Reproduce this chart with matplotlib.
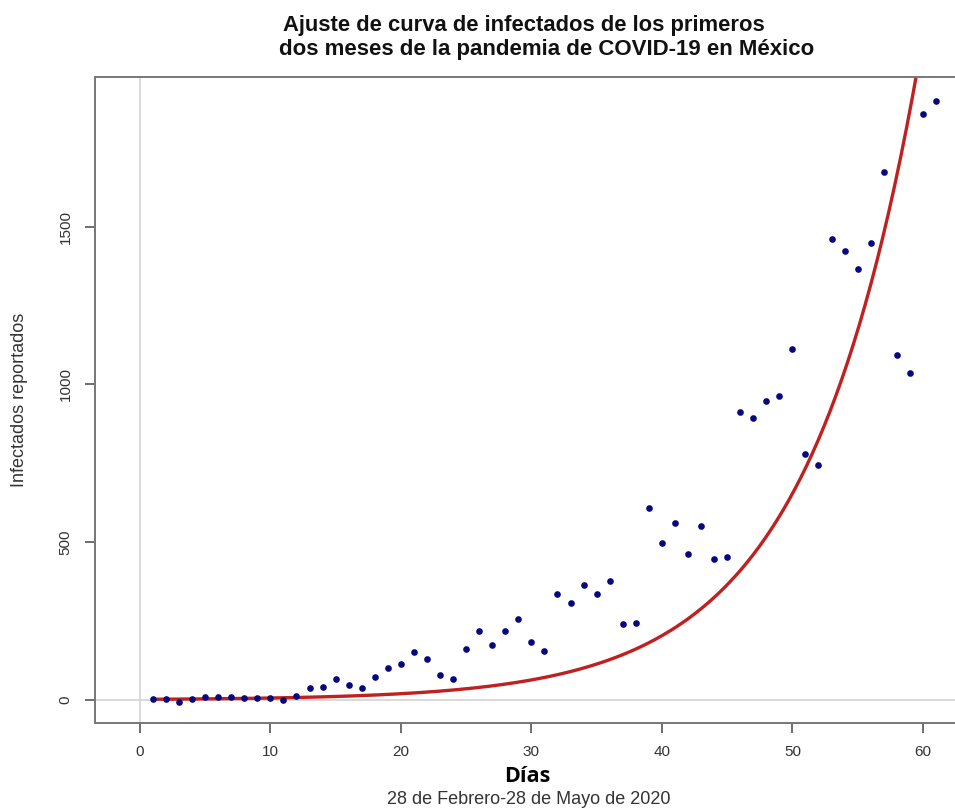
#!/usr/bin/env python3
import numpy as np
import matplotlib
matplotlib.use("Agg")
import matplotlib.pyplot as plt

# datos
dias = np.arange(1, 62)
infectados = [2, 4, -5, 2, 10, 10, 10, 7, 7, 7,
              0, 13, 37, 41, 66, 48, 38, 73, 101, 115,
              151, 130, 80, 66, 162, 219, 175, 219, 255, 184,
              155, 337, 308, 364, 336, 376, 240, 243, 607, 496,
              560, 461, 550, 447, 454, 913, 895, 948, 962, 1112,
              780, 743, 1462, 1423, 1366, 1447, 1674, 1094, 1037, 1857, 1897]

# parametros del ajuste exponencial y = a * exp(b * x)
fit_a = 1.92
fit_b = 0.1166

x_ticks = [0, 10, 20, 30, 40, 50, 60]
y_ticks = [0, 500, 1000, 1500]


def main():
    plt.rcParams['font.family'] = ['Liberation Sans', 'DejaVu Sans']
    fig = plt.figure(figsize=(9.55, 8.10), dpi=100)
    W, H = 955, 810
    left, right, top, bottom = 95, 962, 77, 723
    ax = fig.add_axes([left / W, 1 - bottom / H, (right - left) / W, (bottom - top) / H])

    ax.axhline(0, color="#d3d3d3", lw=1.2, zorder=1)
    ax.axvline(0, color="#d3d3d3", lw=1.2, zorder=1)

    ax.plot(dias, infectados, "o", color="#08087e", ms=4.8, mec="none", zorder=3)

    xs = np.linspace(1, 61, 400)
    ax.plot(xs, fit_a * np.exp(fit_b * xs), color="#c0201f", lw=2.4, zorder=2)

    ax.set_xlim(-3.44, 63.0)
    ax.set_ylim(-73, 1974)
    ax.set_xticks(x_ticks)
    ax.set_yticks(y_ticks)
    ax.set_yticklabels([str(v) for v in y_ticks], rotation=90, va="center")

    for s in ["left", "bottom", "top"]:
        ax.spines[s].set_color("#777777")
        ax.spines[s].set_linewidth(1.4)
    ax.spines["right"].set_visible(False)
    ax.tick_params(length=7, width=1.2, color="#555555", labelsize=11,
                   labelcolor="#333333", pad=9)

    ax.set_ylabel("Infectados reportados", fontsize=13, color="#333333", labelpad=22)

    fig.text(524 / W, 1 - 25 / H, "Ajuste de curva de infectados de los primeros",
             ha="center", va="center", fontsize=15.8, fontweight="bold", color="#111111")
    fig.text(547 / W, 1 - 50 / H, "dos meses de la pandemia de COVID-19 en México",
             ha="center", va="center", fontsize=16, fontweight="bold", color="#111111")
    fig.text(527 / W, 1 - 776 / H, "Días", ha="center", va="center",
             fontsize=15.5, fontweight="bold", family=["Open Sans", "DejaVu Sans"])
    fig.text(529 / W, 1 - 800 / H, "28 de Febrero-28 de Mayo de 2020", ha="center",
             va="center", fontsize=13, color="#333333")

    fig.savefig("out.png", dpi=100)


if __name__ == "__main__":
    main()
